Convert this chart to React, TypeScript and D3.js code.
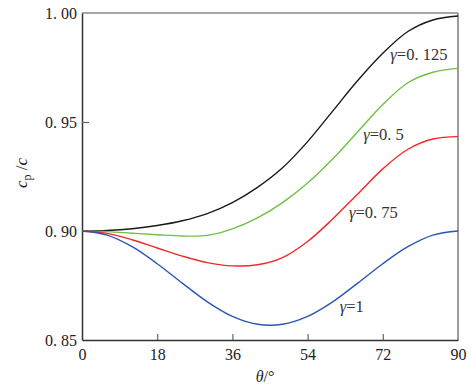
import * as d3 from 'd3';
import { useEffect, useRef } from 'react';

// theta in degrees
const thetas = [0, 6, 12, 18, 24, 30, 36, 42, 48, 54, 60, 66, 72, 78, 84, 90];

// cp/c, one array per gamma
const gamma0125 = [0.9, 0.9002, 0.901, 0.9025, 0.9047, 0.908, 0.913, 0.92, 0.929, 0.941, 0.955, 0.969, 0.9815, 0.9915, 0.9968, 0.9986];
const gamma05 = [0.9, 0.8997, 0.899, 0.8983, 0.8977, 0.898, 0.901, 0.906, 0.913, 0.922, 0.933, 0.9455, 0.958, 0.968, 0.9728, 0.9746];
const gamma075 = [0.9, 0.8989, 0.896, 0.8922, 0.8885, 0.8855, 0.884, 0.8845, 0.8878, 0.8952, 0.9055, 0.917, 0.9285, 0.9375, 0.9422, 0.9433];
const gamma1 = [0.9, 0.8981, 0.8928, 0.885, 0.8761, 0.8675, 0.8608, 0.8572, 0.8572, 0.8608, 0.8675, 0.8761, 0.885, 0.8928, 0.8981, 0.9];

const xTicks = [0, 18, 36, 54, 72, 90];
const yTicks = [0.85, 0.9, 0.95, 1.0];
const yTickLabels = ['0.\u00a085', '0.\u00a090', '0.\u00a095', '1.\u00a000'];

const seriesNames = ['γ=0.\u00a0125', 'γ=0.\u00a05', 'γ=0.\u00a075', 'γ=1'];
const seriesColors = ['#1a1a1a', '#72bf44', '#ee2a2a', '#2b57b3'];

const App = () => {
  const svgRef = useRef(null);

  useEffect(() => {
    const svg = d3.select(svgRef.current);
    svg.selectAll('*').remove();

    const left = 82, right = 458, top = 13, bottom = 340;
    const font = 'Liberation Serif, DejaVu Serif, serif';

    const x = d3.scaleLinear().domain([0, 90]).range([left, right]);
    const y = d3.scaleLinear().domain([0.85, 1.0]).range([bottom, top]);

    // frame: top and right grey, left and bottom dark
    svg.append('line').attr('x1', left).attr('x2', right).attr('y1', top).attr('y2', top)
      .attr('stroke', '#8a8a8a').attr('stroke-width', 1.5);
    svg.append('line').attr('x1', right).attr('x2', right).attr('y1', top).attr('y2', bottom)
      .attr('stroke', '#7a7a7a').attr('stroke-width', 1.5);

    // x axis with inward ticks
    const xAxis = svg.append('g')
      .attr('transform', `translate(0, ${bottom})`)
      .call(d3.axisBottom(x).tickValues(xTicks).tickSize(-6).tickSizeOuter(0).tickPadding(9));
    xAxis.attr('font-family', font).attr('font-size', 16);
    xAxis.select('.domain').attr('stroke', '#333').attr('stroke-width', 1.5);
    xAxis.selectAll('.tick line').attr('stroke', '#666').attr('stroke-width', 1.2)
      .filter((d: any) => d === 0 || d === 90).remove();
    xAxis.selectAll('text').attr('fill', '#222');

    // y axis with inward ticks
    const yAxis = svg.append('g')
      .attr('transform', `translate(${left}, 0)`)
      .call(d3.axisLeft(y).tickValues(yTicks).tickSize(-7).tickSizeOuter(0).tickPadding(5)
        .tickFormat((d, i) => yTickLabels[i]));
    yAxis.attr('font-family', font).attr('font-size', 16);
    yAxis.select('.domain').attr('stroke', '#333').attr('stroke-width', 1.5);
    yAxis.selectAll('.tick line').attr('stroke', '#666').attr('stroke-width', 1.2)
      .filter((d: any) => d === 0.85 || d === 1.0).remove();
    yAxis.selectAll('text').attr('fill', '#222');

    // curves
    const allSeries = [gamma0125, gamma05, gamma075, gamma1];
    const line = d3.line<number>()
      .x((d, i) => x(thetas[i]))
      .y(d => y(d))
      .curve(d3.curveCatmullRom.alpha(0.5));

    allSeries.forEach((s, i) => {
      svg.append('path')
        .datum(s)
        .attr('d', line)
        .attr('fill', 'none')
        .attr('stroke', seriesColors[i])
        .attr('stroke-width', 1.4);
    });

    // series labels
    const labelPos = [
      { t: 73.8, v: 0.9784 },
      { t: 67.3, v: 0.9417 },
      { t: 63.9, v: 0.906 },
      { t: 61.7, v: 0.8628 },
    ];
    labelPos.forEach((p, i) => {
      const [g, rest] = seriesNames[i].split('=');
      const t = svg.append('text')
        .attr('x', x(p.t))
        .attr('y', y(p.v))
        .attr('font-family', font)
        .attr('font-size', 16.5)
        .attr('fill', '#333');
      t.append('tspan').attr('font-style', 'italic').text(g);
      t.append('tspan').text('=' + rest);
    });

    // axis titles
    const xt = svg.append('text')
      .attr('x', 265)
      .attr('y', 382)
      .attr('text-anchor', 'middle')
      .attr('font-family', font)
      .attr('font-size', 16)
      .attr('fill', '#222');
    xt.append('tspan').attr('font-style', 'italic').text('θ');
    xt.append('tspan').text('/°');

    const yt = svg.append('text')
      .attr('transform', 'translate(27, 173) rotate(-90)')
      .attr('text-anchor', 'middle')
      .attr('font-family', font)
      .attr('font-size', 17)
      .attr('fill', '#222');
    yt.append('tspan').attr('font-style', 'italic').text('c');
    yt.append('tspan').attr('dy', 4).attr('font-size', 12).text('p');
    yt.append('tspan').attr('dy', -4).text('\u00a0/');
    yt.append('tspan').attr('font-style', 'italic').text('c');
  }, []);

  return (
    <svg ref={svgRef} width={471} height={389}
      style={{ position: 'absolute', left: 0, top: 0, background: '#fff' }}></svg>
  );
};

export default App;
